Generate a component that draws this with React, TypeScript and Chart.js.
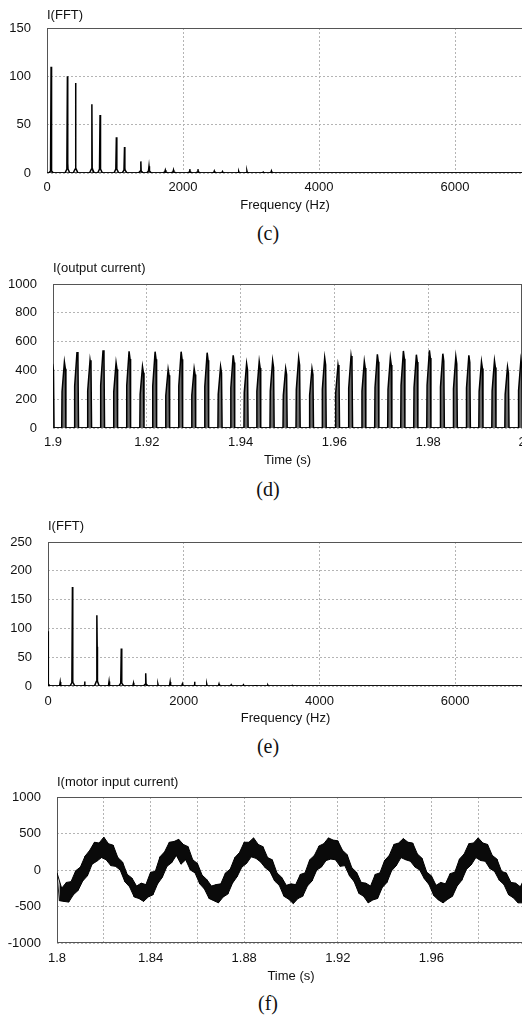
import React, { useEffect, useRef } from 'react';
import { Chart, registerables } from 'chart.js';

Chart.register(...registerables);

const FONT = "'Liberation Sans', Arial, Helvetica, sans-serif";
const TEXT = '#111111';

// ---------- (c) FFT of input current ----------
const fftCFreqs = [60, 300, 420, 660, 780, 1020, 1140, 1380, 1500, 1740, 1860, 2100, 2220, 2460, 2580, 2820, 2940, 3180, 3300];
const fftCAmps = [110, 100, 93, 71, 60, 37, 27, 12, 7, 3, 3, 4, 4, 2, 1.5, 1.5, 2, 1, 2];
const fftCSub = [2, 10, 5, 5, 18, 16, 5, 2, 2, 1, 1, 1, 1, 0.5, 0.5, 0.5, 0.5, 0.5, 0.5];
const fftCHump = [2, 4, 4, 4, 4, 4, 3, 2, 2, 1, 1, 1, 1, 0.5, 0.5, 0.5, 0.5, 0.5, 0.5];

// ---------- (d) output current pulses ----------
const outPulseTimes = [1.8999, 1.90243, 1.90512, 1.9079, 1.91067, 1.91345, 1.91622, 1.91908, 1.92177, 1.92455, 1.92732, 1.9301, 1.93287, 1.93573, 1.93842, 1.94128, 1.94397, 1.94683, 1.94961, 1.95238, 1.95522, 1.95793, 1.96077, 1.96355, 1.96638, 1.96916, 1.97193, 1.97471, 1.97748, 1.98026, 1.98312, 1.98589, 1.98867, 1.99136, 1.99413, 1.99691, 1.99977];
const outPulsePeaks = [445, 458, 528, 470, 540, 453, 533, 426, 530, 407, 530, 412, 523, 426, 505, 447, 463, 467, 412, 486, 412, 488, 437, 500, 463, 512, 486, 535, 509, 540, 516, 495, 505, 460, 467, 423, 472];
const pulseShapeDt = [-0.00057, -0.0005, 0, 0.0002, 0.00032];
const pulseShapeLevel = [0, 0.55, 1, 0.9, 0];

// ---------- (e) FFT of output current ----------
const fftEFreqs = [0, 180, 360, 540, 720, 900, 1080, 1260, 1440, 1620, 1800, 1980, 2160, 2340, 2520, 2700, 2880, 3060, 3240, 3600];
const fftEAmps = [95, 7, 172, 8, 123, 8, 65, 5, 22, 3, 7, 3.5, 7.5, 3, 3.5, 2, 2, 1.5, 1.5, 1];
const fftESub = [5, 1, 8, 1, 68, 1, 13, 1, 4, 0.5, 1, 0.5, 1, 0.5, 0.5, 0.5, 0.5, 0.5, 0.5, 0.5];
const fftEHump = [3, 1, 6, 1, 8, 1, 5, 1, 3, 0.5, 1, 0.5, 1, 0.5, 0.5, 0.5, 0.5, 0.5, 0.5, 0.5];

// ---------- (f) motor input current (upper / lower band every 2 ms) ----------
const motorStart = 1.8;
const motorStep = 0.002;
const motorHigh = [
  -40, -250, -170, -160, -10, 40, 190, 270, 380, 370,
  450, 360, 340, 170, 110, -60, -110, -220, -180, -200,
  -30, -20, 180, 250, 380, 390, 420, 350, 320, 140,
  90, -70, -130, -220, -200, -190, -40, 10, 170, 240,
  380, 380, 440, 350, 320, 170, 140, -40, -100, -210,
  -190, -200, -60, -40, 140, 200, 330, 360, 440, 410,
  400, 270, 210, 30, -30, -170, -180, -220, -60, -40,
  130, 200, 350, 370, 430, 380, 370, 220, 160, -30,
  -80, -210, -170, -190, -50, -30, 150, 220, 360, 370,
  440, 370, 350, 200, 150, -20, -40, -170, -180, -230,
  -100,
];
const motorLow = [
  -420, -430, -440, -340, -280, -150, -80, 80, 120, 170,
  140, 60, 50, 0, -160, -230, -370, -390, -430, -370,
  -340, -190, -100, 50, 100, 200, 80, 140, 0, -40,
  -190, -260, -390, -420, -450, -370, -330, -180, -90, 40,
  90, 180, 160, 110, 30, -20, -150, -210, -360, -400,
  -460, -390, -360, -220, -150, 0, 40, 130, 150, 140,
  50, 60, -80, -160, -320, -360, -450, -410, -390, -240,
  -170, -10, 60, 170, 140, 120, 40, 0, -120, -200,
  -350, -410, -450, -400, -360, -220, -140, 10, 70, 170,
  130, 120, 20, -20, -140, -200, -340, -380, -450, -450,
  -430,
];

// ---------- ticks ----------
const fftTicks = [0, 2000, 4000, 6000];
const fftLabels = ['0', '2000', '4000', '6000'];
const outTimeTicks = [1.9, 1.92, 1.94, 1.96, 1.98, 2];
const outTimeLabels = ['1.9', '1.92', '1.94', '1.96', '1.98', '2'];
const motorTimeTicks = [1.8, 1.82, 1.84, 1.86, 1.88, 1.9, 1.92, 1.94, 1.96, 1.98, 2];
const motorTimeLabels = ['1.8', '', '1.84', '', '1.88', '', '1.92', '', '1.96', '', '2'];

const spikeOffsets = [-35, -8, 0, 5, 9, 35];

type Pt = { x: number; y: number };

function buildSpectrum(freqs: number[], amps: number[], subs: number[], humps: number[], fMax: number) {
  const pts: Pt[] = [{ x: 0, y: 0 }];
  freqs.forEach((f, i) => {
    const levels = [0, humps[i], amps[i], subs[i], humps[i], 0];
    spikeOffsets.forEach((d, k) => {
      const x = f + d;
      if (x >= 0) pts.push({ x, y: levels[k] });
    });
  });
  pts.push({ x: fMax, y: 0 });
  return pts;
}

function buildPulses() {
  const pts: Pt[] = [];
  outPulseTimes.forEach((t, i) => {
    pulseShapeDt.forEach((d, k) => pts.push({ x: t + d, y: outPulsePeaks[i] * pulseShapeLevel[k] }));
  });
  return pts;
}

const motorHighPts = () => motorHigh.map((h, i) => ({ x: motorStart + i * motorStep, y: h }));
const motorLowPts = () => motorLow.map((l, i) => ({ x: motorStart + i * motorStep + motorStep / 2, y: l }));
const motorZigPts = () => {
  const pts: Pt[] = [];
  motorHigh.forEach((h, i) => {
    pts.push({ x: motorStart + i * motorStep, y: h });
    pts.push({ x: motorStart + i * motorStep + motorStep / 2, y: motorLow[i] });
  });
  return pts;
};

type Spec = {
  top: number; width: number; plotLeft: number; plotTop: number; plotBottom: number;
  titleY: number; tickY: number; axisTitleY: number;
  title: string; xTitle: string;
  xMin: number; xMax: number; xTicks: number[]; xLabels: string[];
  yMin: number; yMax: number; yStep: number;
  datasets: () => any[];
};

const lineBase = { borderColor: '#000000', pointRadius: 0, tension: 0 };

const specs: Spec[] = [
  {
    top: 0, width: 523, plotLeft: 47, plotTop: 28, plotBottom: 173, titleY: 15, tickY: 188, axisTitleY: 205,
    title: 'I(FFT)', xTitle: 'Frequency (Hz)', xMin: 0, xMax: 7000, xTicks: fftTicks, xLabels: fftLabels,
    yMin: 0, yMax: 150, yStep: 50,
    datasets: () => [{ ...lineBase, borderWidth: 1.5, fill: false, data: buildSpectrum(fftCFreqs, fftCAmps, fftCSub, fftCHump, 7000) }],
  },
  {
    top: 250, width: 522, plotLeft: 53, plotTop: 284, plotBottom: 428, titleY: 268, tickY: 443, axisTitleY: 460,
    title: 'I(output current)', xTitle: 'Time (s)', xMin: 1.9, xMax: 2, xTicks: outTimeTicks, xLabels: outTimeLabels,
    yMin: 0, yMax: 1000, yStep: 200,
    datasets: () => [{ ...lineBase, borderWidth: 1.5, fill: 'origin', backgroundColor: '#6a6a6a', data: buildPulses() }],
  },
  {
    top: 505, width: 523, plotLeft: 48, plotTop: 542, plotBottom: 686, titleY: 526, tickY: 702, axisTitleY: 718,
    title: 'I(FFT)', xTitle: 'Frequency (Hz)', xMin: 0, xMax: 7000, xTicks: fftTicks, xLabels: fftLabels,
    yMin: 0, yMax: 250, yStep: 50,
    datasets: () => [{ ...lineBase, borderWidth: 1.5, fill: false, data: buildSpectrum(fftEFreqs, fftEAmps, fftESub, fftEHump, 7000) }],
  },
  {
    top: 765, width: 525, plotLeft: 57, plotTop: 797, plotBottom: 943, titleY: 782, tickY: 959, axisTitleY: 976,
    title: 'I(motor input current)', xTitle: 'Time (s)', xMin: 1.8, xMax: 2, xTicks: motorTimeTicks, xLabels: motorTimeLabels,
    yMin: -1000, yMax: 1000, yStep: 500,
    datasets: () => [
      { ...lineBase, borderWidth: 1, fill: false, data: motorHighPts() },
      { ...lineBase, borderWidth: 1, fill: '-1', backgroundColor: '#0a0a0a', data: motorLowPts() },
      { ...lineBase, borderWidth: 1, borderColor: '#222222', fill: false, data: motorZigPts() },
    ],
  },
];

function Panel({ spec }: { spec: Spec }) {
  const ref = useRef<HTMLCanvasElement>(null);
  const H = spec.axisTitleY + 8 - spec.top;
  useEffect(() => {
    const pt = spec.plotTop - spec.top;
    const xh = H - (spec.plotBottom - spec.top);
    const tickPad = Math.round(spec.tickY - spec.plotBottom - 7.8);
    const plugin = {
      id: 'frameTitle',
      beforeDatasetsDraw(chart: any) {
        const { ctx, chartArea: a } = chart;
        ctx.save();
        ctx.strokeStyle = '#555555';
        ctx.lineWidth = 1;
        const l = Math.round(a.left) + 0.5;
        const t = Math.round(a.top) + 0.5;
        const r = Math.round(a.right) - 0.5;
        const b = Math.round(a.bottom) - 0.5;
        ctx.strokeRect(l, t, r - l, b - t);
        ctx.restore();
      },
      afterDraw(chart: any) {
        const { ctx, chartArea: a } = chart;
        ctx.save();
        ctx.font = `13px ${FONT}`;
        ctx.fillStyle = TEXT;
        ctx.textAlign = 'left';
        ctx.textBaseline = 'middle';
        ctx.fillText(spec.title, a.left, spec.titleY - spec.top);
        ctx.restore();
      },
    };
    const chart = new Chart(ref.current as HTMLCanvasElement, {
      type: 'line',
      data: { datasets: spec.datasets() },
      options: {
        animation: false,
        responsive: false,
        events: [],
        layout: { padding: { left: 0, right: 0, top: pt, bottom: 0 } },
        plugins: { legend: { display: false }, tooltip: { enabled: false }, title: { display: false } },
        scales: {
          x: {
            type: 'linear',
            min: spec.xMin,
            max: spec.xMax,
            afterBuildTicks: (scale: any) => {
              scale.ticks = spec.xTicks.map((v) => ({ value: v }));
            },
            afterFit: (scale: any) => {
              scale.height = xh;
              scale.paddingLeft = 0;
              scale.paddingRight = 0;
            },
            ticks: {
              autoSkip: false,
              maxRotation: 0,
              padding: tickPad,
              color: TEXT,
              font: { family: FONT, size: 13 },
              callback: (_v: any, i: number) => spec.xLabels[i],
            },
            grid: { color: '#b4b4b4', lineWidth: 1, drawTicks: false },
            border: { display: false, dash: [2, 2] },
            title: {
              display: true,
              text: spec.xTitle,
              color: TEXT,
              font: { family: FONT, size: 13 },
              padding: 0,
            },
          },
          y: {
            type: 'linear',
            min: spec.yMin,
            max: spec.yMax,
            afterFit: (scale: any) => {
              scale.width = spec.plotLeft;
            },
            ticks: {
              stepSize: spec.yStep,
              padding: 16,
              color: TEXT,
              font: { family: FONT, size: 13 },
              callback: (v: any) => String(v),
            },
            grid: { color: '#b4b4b4', lineWidth: 1, drawTicks: false },
            border: { display: false, dash: [2, 2] },
          },
        },
      },
      plugins: [plugin],
    } as any);
    return () => chart.destroy();
  }, []);
  return (
    <canvas
      ref={ref}
      width={spec.width}
      height={H}
      style={{ position: 'absolute', left: 0, top: spec.top, width: spec.width, height: H }}
    />
  );
}

const captions = [
  { text: '(c)', y: 235 },
  { text: '(d)', y: 491 },
  { text: '(e)', y: 748 },
  { text: '(f)', y: 1005 },
];

export default function App() {
  return (
    <div
      style={{
        position: 'absolute',
        left: 0,
        top: 0,
        width: 522,
        height: 1021,
        overflow: 'hidden',
        background: '#ffffff',
      }}
    >
      {specs.map((s, i) => (
        <Panel key={i} spec={s} />
      ))}
      {captions.map((c) => (
        <div
          key={c.text}
          style={{
            position: 'absolute',
            left: 0,
            width: 536,
            top: c.y - 14,
            height: 24,
            lineHeight: '24px',
            textAlign: 'center',
            fontFamily: "'Liberation Serif', 'Times New Roman', serif",
            fontSize: 20,
            color: '#111',
          }}
        >
          {c.text}
        </div>
      ))}
    </div>
  );
}
